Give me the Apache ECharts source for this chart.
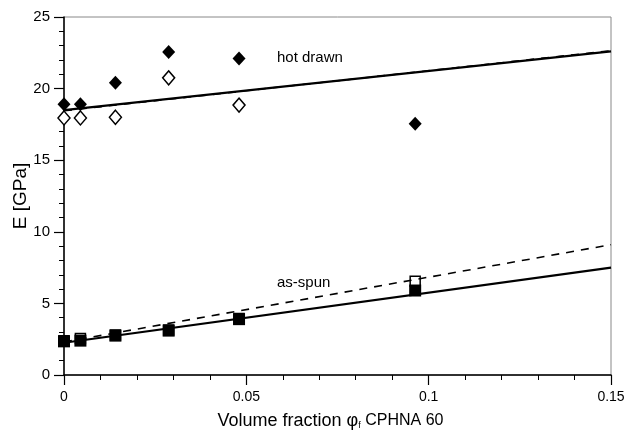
<!DOCTYPE html>
<html>
<head>
<meta charset="utf-8">
<script src="https://cdn.jsdelivr.net/npm/echarts@6/dist/echarts.min.js"></script>
<style>
  html, body { margin: 0; padding: 0; background: #fff; }
  #chart { width: 627px; height: 435px; }
</style>
</head>
<body>
<div id="chart"></div>
<script>
// volume fractions of CPHNA 60
const hotX = [0, 0.0045, 0.0141, 0.0287, 0.048, 0.0963]
// hot drawn, filled and open diamonds
const hotFilled = [18.9, 18.9, 20.4, 22.55, 22.1, 17.55]
const hotOpen = [17.95, 17.95, 18.0, 20.75, 18.85]
// as-spun, filled and open squares
const spunFilled = [2.35, 2.4, 2.75, 3.1, 3.9, 5.9]
const spunOpen = [2.4, 2.55, 2.8, 3.15, 3.95, 6.55]
// fit lines, ends at x = 0 and x = 0.15
const lineX = [0, 0.15]
const hotSolid = [18.5, 22.6]
const hotDashed = [18.45, 22.65]
const spunSolid = [2.25, 7.5]
const spunDashed = [2.3, 9.1]
const xTicks = [0, 0.05, 0.1, 0.15]
const yTicks = [0, 5, 10, 15, 20, 25]

const font = 'Liberation Sans, Arial, sans-serif'

function pairs(xs, ys) {
  return ys.map((y, i) => [xs[i], y])
}

const chart = echarts.init(document.getElementById('chart'))

const openStyle = { color: '#fff', borderColor: '#000', borderWidth: 1.5, opacity: 1 }
const filledStyle = { color: '#000', opacity: 1 }

chart.setOption({
  animation: false,
  grid: {
    left: 64, right: 16, top: 17, bottom: 60,
    containLabel: false,
    outerBoundsMode: 'none',
    show: true, borderColor: '#888', borderWidth: 1
  },
  xAxis: {
    type: 'value',
    min: xTicks[0],
    max: xTicks[xTicks.length - 1],
    interval: 0.05,
    axisLine: { lineStyle: { color: '#000', width: 1.5 } },
    axisTick: { show: true, inside: false, length: 10, lineStyle: { color: '#000', width: 1.2 } },
    minorTick: { show: true, splitNumber: 5, length: 5, lineStyle: { color: '#000', width: 1 } },
    splitLine: { show: false },
    axisLabel: { color: '#000', fontSize: 14, fontFamily: font, margin: 15 },
    name: '{a|Volume fraction φ}{s|f}{b| CPHNA 60}',
    nameLocation: 'middle',
    nameGap: 37,
    nameMoveOverlap: false,
    nameTextStyle: {
      padding: [0, 14, 0, 0],
      rich: {
        a: { fontSize: 18, fontFamily: font, color: '#000' },
        s: { fontSize: 9, fontFamily: font, color: '#000', verticalAlign: 'bottom', padding: [9, 0, 0, 0] },
        b: { fontSize: 16, fontFamily: font, color: '#000' }
      }
    }
  },
  yAxis: {
    type: 'value',
    min: yTicks[0],
    max: yTicks[yTicks.length - 1],
    interval: 5,
    axisLine: { show: true, lineStyle: { color: '#000', width: 1.5 } },
    axisTick: { show: true, inside: false, length: 10, lineStyle: { color: '#000', width: 1.2 } },
    minorTick: { show: true, splitNumber: 5, length: 5, lineStyle: { color: '#000', width: 1 } },
    splitLine: { show: false },
    axisLabel: { color: '#000', fontSize: 15, fontFamily: font, margin: 14 },
    name: 'E [GPa]',
    nameLocation: 'middle',
    nameRotate: 90,
    nameGap: 34,
    nameMoveOverlap: false,
    nameTextStyle: { color: '#000', fontSize: 19, fontFamily: font }
  },
  graphic: [
    { type: 'text', left: 277, top: 50, style: { text: 'hot drawn', fill: '#000', font: '15px ' + font } },
    { type: 'text', left: 277, top: 275, style: { text: 'as-spun', fill: '#000', font: '15px ' + font } }
  ],
  series: [
    { type: 'line', data: pairs(lineX, hotDashed), symbol: 'none', lineStyle: { color: '#000', width: 1.5, type: [8, 7] } },
    { type: 'line', data: pairs(lineX, hotSolid), symbol: 'none', lineStyle: { color: '#000', width: 2.2 } },
    { type: 'line', data: pairs(lineX, spunDashed), symbol: 'none', lineStyle: { color: '#000', width: 1.6, type: [8, 7] } },
    { type: 'line', data: pairs(lineX, spunSolid), symbol: 'none', lineStyle: { color: '#000', width: 2.2 } },
    { type: 'scatter', data: pairs(hotX, hotOpen), symbol: 'diamond', symbolSize: [12, 14], itemStyle: openStyle },
    { type: 'scatter', data: pairs(hotX, hotFilled), symbol: 'diamond', symbolSize: [13, 14], itemStyle: filledStyle },
    { type: 'scatter', data: pairs(hotX, spunOpen), symbol: 'rect', symbolSize: 10, itemStyle: openStyle },
    { type: 'scatter', data: pairs(hotX, spunFilled), symbol: 'rect', symbolSize: 12, itemStyle: filledStyle }
  ]
})
</script>
</body>
</html>
